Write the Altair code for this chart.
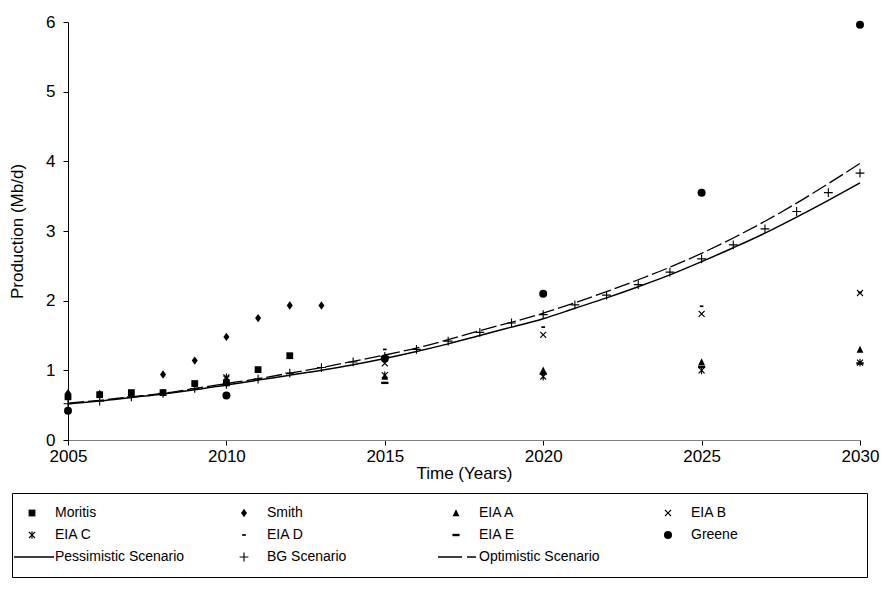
import altair as alt
import pandas as pd

# ---------------- data ----------------
# legend reads row by row: Moritis, Smith, EIA A, EIA B / EIA C, EIA D, EIA E, Greene /
# Pessimistic, BG, Optimistic.  Vega fills legend grids column by column, so the
# domain below is listed column by column.
legend_order = ["Moritis", "EIA C", "Pessimistic Scenario",
                "Smith", "EIA D", "BG Scenario",
                "EIA A", "EIA E", "Optimistic Scenario",
                "EIA B", "Greene"]

moritis_years = [2005, 2006, 2007, 2008, 2009, 2010, 2011, 2012]
moritis_vals = [0.62, 0.65, 0.68, 0.68, 0.81, 0.82, 1.01, 1.21]

smith_years = [2005, 2006, 2008, 2009, 2010, 2011, 2012, 2013]
smith_vals = [0.67, 0.66, 0.94, 1.14, 1.48, 1.75, 1.93, 1.93]

eia_years = [2010, 2015, 2020, 2025, 2030]
eia_a_vals = [0.84, 0.91, 1.00, 1.12, 1.30]
eia_b_vals = [0.88, 1.10, 1.51, 1.81, 2.11]
eia_c_vals = [0.90, 0.93, 0.91, 1.00, 1.11]
eia_d_vals = [0.86, 1.30, 1.62, 1.92, 2.12]
eia_e_vals = [0.80, 0.82, 0.95, 1.05, 1.10]

greene_years = [2005, 2010, 2015, 2020, 2025, 2030]
greene_vals = [0.42, 0.64, 1.17, 2.10, 3.55, 5.96]

bg_years = list(range(2005, 2031))
bg_vals = [0.52, 0.56, 0.62, 0.67, 0.74, 0.80, 0.875, 0.96, 1.04, 1.12,
           1.20, 1.30, 1.42, 1.545, 1.68, 1.80, 1.94, 2.08, 2.23, 2.41,
           2.60, 2.80, 3.03, 3.28, 3.55, 3.83]

scen_years = list(range(2005, 2031))
pess_vals = [0.52, 0.56, 0.61, 0.66, 0.72, 0.79, 0.86, 0.93, 1.00, 1.08,
             1.17, 1.27, 1.38, 1.50, 1.62, 1.74, 1.89, 2.04, 2.20, 2.37,
             2.56, 2.76, 2.97, 3.20, 3.44, 3.69]
opt_vals = [0.53, 0.57, 0.62, 0.67, 0.74, 0.81, 0.88, 0.96, 1.04, 1.13,
            1.22, 1.32, 1.44, 1.57, 1.69, 1.82, 1.97, 2.13, 2.30, 2.48,
            2.68, 2.90, 3.14, 3.40, 3.68, 3.97]

x_ticks = [2005, 2010, 2015, 2020, 2025, 2030]
y_ticks = [0, 1, 2, 3, 4, 5, 6]

# ---------------- tables ----------------
rows = []
def add(name, years, vals):
    for yr, v in zip(years, vals):
        rows.append({"series": name, "year": yr, "value": v})

add("Moritis", moritis_years, moritis_vals)
add("Smith", smith_years, smith_vals)
add("EIA A", eia_years, eia_a_vals)
add("EIA B", eia_years, eia_b_vals)
add("EIA C", eia_years, eia_c_vals)
add("EIA D", eia_years, eia_d_vals)
add("EIA E", eia_years, eia_e_vals)
add("Greene", greene_years, greene_vals)
add("BG Scenario", bg_years, bg_vals)
points = pd.DataFrame(rows)

pess = pd.DataFrame({"year": scen_years, "value": pess_vals})
opt = pd.DataFrame({"year": scen_years, "value": opt_vals})

# ---------------- symbol shapes ----------------
SQ = "M-0.85,-0.85H0.85V0.85H-0.85Z"
DIA = "M0,-1.05L0.75,0L0,1.05L-0.75,0Z"
TRI = "M0,-0.95L0.85,0.8H-0.85Z"
XS = ("M-0.85,-0.65L-0.65,-0.85L0,-0.2L0.65,-0.85L0.85,-0.65L0.2,0"
      "L0.85,0.65L0.65,0.85L0,0.2L-0.65,0.85L-0.85,0.65L-0.2,0Z")
AST = XS + "M-0.14,-0.95H0.14V0.95H-0.14Z"
DASH_S = "M-0.45,-0.22H0.45V0.22H-0.45Z"
DASH_L = "M-0.9,-0.3H0.9V0.3H-0.9Z"
PLUS = ("M-0.14,-1.1H0.14V-0.14H1.1V0.14H0.14V1.1H-0.14V0.14H-1.1V-0.14"
        "H-0.14Z")
# a trailing bare move-to only widens the legend cell / box, it draws nothing
XS_B = XS + "M46.3,0"
LINE_SOLID = "M-4.5,-0.18H5.5V0.18H-4.5ZM48,0"
LINE_DASH = "M-4.5,-0.17H1.5V0.17H-4.5ZM2.75,-0.17H5V0.17H2.75Z"

shape_of = {"Moritis": SQ, "Smith": DIA, "EIA A": TRI, "EIA B": XS_B,
            "EIA C": AST, "EIA D": DASH_S, "EIA E": DASH_L, "Greene": "circle",
            "Pessimistic Scenario": LINE_SOLID, "BG Scenario": PLUS,
            "Optimistic Scenario": LINE_DASH}
shape_range = [shape_of[s] for s in legend_order]

FONT = "Liberation Sans"

x_enc = alt.X("year:Q", scale=alt.Scale(domain=[2005, 2030], nice=False),
              axis=alt.Axis(values=x_ticks, format="d", title="Time (Years)",
                            grid=False, domainColor="#808080", tickColor="black",
                            tickSize=5, labelPadding=3, titlePadding=1,
                            labelFlush=False,
                            labelFontSize=17, titleFontSize=17,
                            titleFontWeight="normal", labelColor="black",
                            titleColor="black", labelFont=FONT, titleFont=FONT))
y_enc = alt.Y("value:Q", scale=alt.Scale(domain=[0, 6], nice=False),
              axis=alt.Axis(values=y_ticks, format="d", title="Production (Mb/d)",
                            grid=False, domainColor="black", tickColor="black",
                            tickSize=5, labelPadding=8, titlePadding=19,
                            labelFlush=False,
                            labelFontSize=17, titleFontSize=17,
                            titleFontWeight="normal", labelColor="black",
                            titleColor="black", labelFont=FONT, titleFont=FONT))

pess_line = alt.Chart(pess).mark_line(color="black", strokeWidth=1.5,
                                      interpolate="monotone").encode(
    x=x_enc, y=y_enc)
opt_line = alt.Chart(opt).mark_line(color="black", strokeWidth=1.3,
                                    strokeDash=[16, 4],
                                    interpolate="monotone").encode(
    x=x_enc, y=y_enc)

pts = alt.Chart(points).mark_point(filled=True, color="black", opacity=1,
                                   size=64, strokeWidth=0).encode(
    x=x_enc, y=y_enc,
    shape=alt.Shape("series:N",
                    scale=alt.Scale(domain=legend_order, range=shape_range),
                    sort=legend_order,
                    legend=alt.Legend(title=None, orient="none",
                                      legendX=-56, legendY=471,
                                      columns=4, gridAlign="all",
                                      columnPadding=2, rowPadding=8,
                                      padding=13, symbolSize=64,
                                      symbolStrokeWidth=0,
                                      symbolFillColor="black",
                                      symbolOpacity=1,
                                      labelOffset=16, labelFontSize=14,
                                      labelFont=FONT, labelColor="black",
                                      labelLimit=400,
                                      strokeColor="black", fillColor="white",
                                      cornerRadius=0)))

chart = alt.layer(pess_line, opt_line, pts).properties(
    width=792, height=418,
    autosize=alt.AutoSizeParams(type="none"),
    padding={"left": 68, "top": 22, "right": 26, "bottom": 160},
    background="white",
).configure_view(stroke=None).configure_axis(domainWidth=1, tickWidth=1)

chart.save("out.html", embed_options={"renderer": "svg", "actions": False})
